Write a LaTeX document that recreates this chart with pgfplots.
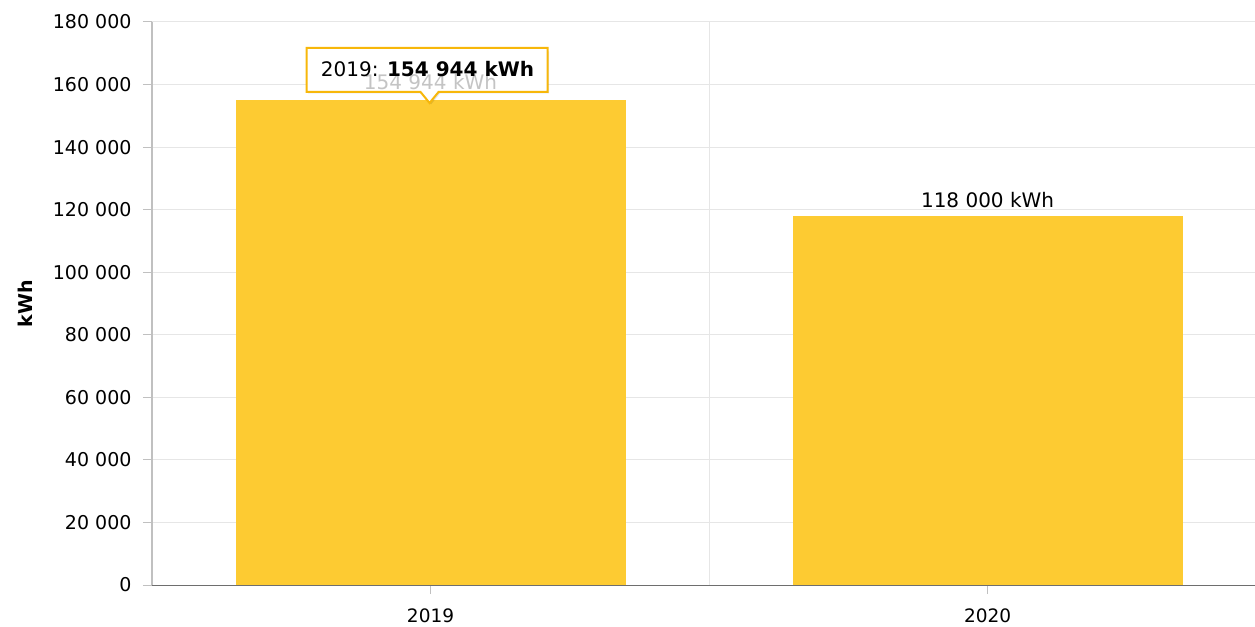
\documentclass[border=0pt]{standalone}
\usepackage{pgfplots}
\pgfplotsset{compat=1.18}
\usepackage{fontspec}
\setmainfont{DejaVu Sans}
\definecolor{barc}{RGB}{253,203,50}
\definecolor{tipc}{RGB}{247,183,10}
\definecolor{gridc}{RGB}{230,230,230}
\definecolor{yaxc}{RGB}{192,192,192}
\definecolor{xaxc}{RGB}{110,110,110}
\definecolor{lblg}{RGB}{196,196,196}
\begin{document}
\begin{tikzpicture}[font=\fontsize{19bp}{23bp}\selectfont]
\begin{axis}[
  scale only axis, width=1103bp, height=563bp,
  xmin=-0.5, xmax=1.48, ymin=0, ymax=180000,
  axis x line*=bottom, axis y line*=left,
  x axis line style={draw=xaxc, line width=1bp, -},
  y axis line style={draw=yaxc, line width=1.5bp, -},
  xtick={0,1}, xticklabels={2019,2020},
  extra x ticks={0.5}, extra x tick labels={},
  extra x tick style={grid=major, major tick length=0pt, major grid style={draw=gridc, line width=1bp}},
  ytick={0,20000,40000,60000,80000,100000,120000,140000,160000,180000},
  yticklabels={0,20 000,40 000,60 000,80 000,100 000,120 000,140 000,160 000,180 000},
  ymajorgrids, major grid style={draw=gridc, line width=1bp},
  tick align=outside, major tick length=9bp,
  tick style={draw=yaxc, line width=1bp},
  xtick pos=bottom, ytick pos=left,
  scaled y ticks=false,
  ylabel={\bfseries kWh},
  ylabel style={at={(axis description cs:-0.1151,0.5)}, anchor=center},
  yticklabel style={xshift=-8bp},
  xticklabel style={yshift=-11bp, font=\fontsize{18.5bp}{22bp}\selectfont},
  clip=false,
]
\addplot[ybar, bar width=0.7, bar shift=0pt, fill=barc, draw=none]
  coordinates {(0,154944)};
\addplot[ybar, bar width=0.7, bar shift=0pt, fill=barc, draw=none,
  nodes near coords={118 000 kWh},
  every node near coord/.append style={text=black, anchor=south, yshift=5bp, font=\fontsize{20bp}{24bp}\selectfont}]
  coordinates {(1,118000)};
\coordinate (T) at (axis cs:0,154944);
\coordinate (O) at (rel axis cs:0,0);
\end{axis}
\begin{scope}[shift={(T)}, x=1bp, y=1bp]
  \fill[black, opacity=0.10] (-122.5,6.9) -- (-8.5,6.9) -- (0.5,-4.1) -- (9.5,6.9) -- (118.5,6.9) -- (118.5,48.9) -- (-122.5,48.9) -- cycle;
  \fill[white] (-124,8.4) -- (-10,8.4) -- (-1,-2.6) -- (8,8.4) -- (117,8.4) -- (117,52.4) -- (-124,52.4) -- cycle;
  \node[anchor=base, text=lblg, font=\fontsize{20bp}{24bp}\selectfont] at (0,10.4) {154 944 kWh};
  \draw[draw=tipc, line width=2bp] (-124,8.4) -- (-10,8.4) -- (-1,-2.6) -- (8,8.4) -- (117,8.4) -- (117,52.4) -- (-124,52.4) -- cycle;
  \node[font=\fontsize{20bp}{24bp}\selectfont] at (-3,31) {2019: \textbf{154 944 kWh}};
\end{scope}
\pgfresetboundingbox
\path[use as bounding box] ([shift={(-152bp,-42bp)}]O) rectangle ++(1255bp,627bp);
\end{tikzpicture}
\end{document}
